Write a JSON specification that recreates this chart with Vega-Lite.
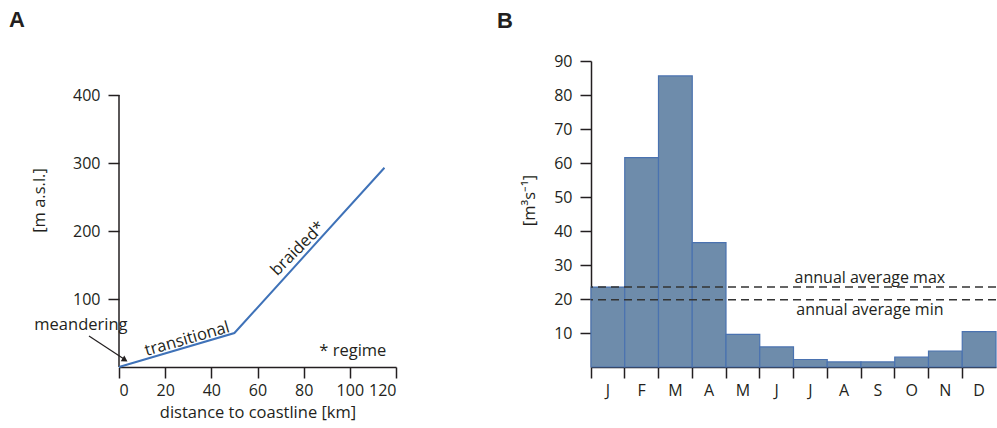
{
  "$schema": "https://vega.github.io/schema/vega-lite/v6.json",
  "padding": {"left": 9, "top": 9, "right": 0, "bottom": 0},
  "spacing": 100,
  "config": {
    "view": {"stroke": null},
    "font": "Open Sans",
    "axis": {
      "domainColor": "#231f20", "domainWidth": 1.5, "tickColor": "#231f20", "tickWidth": 1.5, "tickSize": 11,
      "labelColor": "#231f20", "labelFont": "Open Sans", "labelFontSize": 16, "grid": false, "labelOverlap": false,
      "titleColor": "#231f20", "titleFont": "Open Sans", "titleFontSize": 16.5, "titleFontWeight": "normal"
    }
  },
  "datasets": {
    "profile": [{"d": 0, "e": 0}, {"d": 50, "e": 50}, {"d": 115, "e": 293}],
    "flow": [
      {"month": "Jan", "q": 23.5}, {"month": "Feb", "q": 61.6}, {"month": "Mar", "q": 85.6},
      {"month": "Apr", "q": 36.6}, {"month": "May", "q": 9.6}, {"month": "Jun", "q": 5.9},
      {"month": "Jul", "q": 2.2}, {"month": "Aug", "q": 1.5}, {"month": "Sep", "q": 1.5},
      {"month": "Oct", "q": 2.9}, {"month": "Nov", "q": 4.7}, {"month": "Dec", "q": 10.4}
    ],
    "averages": [{"kind": "annual average max", "q": 23.5, "ly": 26.3}, {"kind": "annual average min", "q": 19.8, "ly": 16.9}]
  },
  "hconcat": [
    {
      "width": 277, "height": 306,
      "title": {"text": "A", "anchor": "start", "frame": "group", "dx": -110, "offset": 29, "fontSize": 22, "font": "Liberation Sans", "fontWeight": "bold", "color": "#231f20"},
      "layer": [
        {
          "data": {"values": [{"d": 0, "e": 0, "e2": 400}]},
          "mark": {"type": "rule", "color": "#231f20", "strokeWidth": 1.5},
          "encoding": {"x": {"field": "d", "type": "quantitative"}, "y": {"field": "e", "type": "quantitative"}, "y2": {"field": "e2"}}
        },
        {
          "data": {"name": "profile"},
          "mark": {"type": "line", "color": "#3f72b8", "strokeWidth": 2},
          "encoding": {
            "x": {"field": "d", "type": "quantitative", "scale": {"domain": [0, 120], "nice": false},
                  "axis": {"values": [0, 20, 40, 60, 80, 100, 120], "tickCount": 20, "title": "distance to coastline [km]", "titlePadding": 6, "labelPadding": 4}},
            "y": {"field": "e", "type": "quantitative", "scale": {"domain": [0, 450], "nice": false},
                  "axis": {"values": [100, 200, 300, 400], "tickCount": 20, "domain": false, "title": "[m a.s.l.]", "titlePadding": 25, "labelPadding": 8, "titleY": 139}}
          }
        },
        {
          "data": {"values": [{"label": "meandering", "d": -16.5, "e": 62}]},
          "mark": {"type": "text", "fontSize": 16.5, "color": "#231f20", "baseline": "middle"},
          "encoding": {"x": {"field": "d", "type": "quantitative"}, "y": {"field": "e", "type": "quantitative"}, "text": {"field": "label"}}
        },
        {
          "data": {"values": [{"label": "transitional", "d": 29.5, "e": 41}]},
          "mark": {"type": "text", "fontSize": 16.5, "color": "#231f20", "baseline": "middle", "angle": -16},
          "encoding": {"x": {"field": "d", "type": "quantitative"}, "y": {"field": "e", "type": "quantitative"}, "text": {"field": "label"}}
        },
        {
          "data": {"values": [{"label": "braided*", "d": 77.5, "e": 174}]},
          "mark": {"type": "text", "fontSize": 16.5, "color": "#231f20", "baseline": "middle", "angle": -45},
          "encoding": {"x": {"field": "d", "type": "quantitative"}, "y": {"field": "e", "type": "quantitative"}, "text": {"field": "label"}}
        },
        {
          "data": {"values": [{"label": "* regime", "d": 101.3, "e": 23.6}]},
          "mark": {"type": "text", "fontSize": 16.5, "color": "#231f20", "baseline": "middle"},
          "encoding": {"x": {"field": "d", "type": "quantitative"}, "y": {"field": "e", "type": "quantitative"}, "text": {"field": "label"}}
        },
        {
          "data": {"values": [{"d": -13, "e": 45.7, "d2": 2.5, "e2": 11}]},
          "mark": {"type": "rule", "color": "#231f20", "strokeWidth": 1.2},
          "encoding": {"x": {"field": "d", "type": "quantitative"}, "y": {"field": "e", "type": "quantitative"}, "x2": {"field": "d2"}, "y2": {"field": "e2"}}
        },
        {
          "data": {"values": [{"d": 2.6, "e": 10.5}]},
          "mark": {"type": "point", "shape": "triangle-right", "filled": true, "color": "#231f20", "size": 45, "angle": 32, "opacity": 1},
          "encoding": {"x": {"field": "d", "type": "quantitative"}, "y": {"field": "e", "type": "quantitative"}}
        }
      ]
    },
    {
      "width": 405, "height": 306,
      "title": {"text": "B", "anchor": "start", "frame": "group", "dx": -94, "offset": 20, "fontSize": 22, "font": "Liberation Sans", "fontWeight": "bold", "color": "#231f20"},
      "layer": [
        {
          "data": {"name": "flow"},
          "mark": {"type": "bar", "fill": "#6e8cab", "stroke": "#4a72b0", "strokeWidth": 1.2, "opacity": 1},
          "encoding": {
            "x": {"field": "month", "type": "ordinal", "sort": null, "scale": {"paddingInner": 0, "paddingOuter": 0},
                  "axis": {"title": null, "bandPosition": 0, "labelAngle": 0, "labelPadding": 4, "labelExpr": "substring(datum.value, 0, 1)"}},
            "y": {"field": "q", "type": "quantitative", "scale": {"domain": [0, 90], "nice": false},
                  "axis": {"values": [10, 20, 30, 40, 50, 60, 70, 80, 90], "tickCount": 20, "title": "[m³s⁻¹]", "titlePadding": 16, "labelPadding": 8, "titleY": 139}}
          }
        },
        {
          "data": {"name": "averages"},
          "mark": {"type": "rule", "color": "#333333", "strokeWidth": 1.5, "strokeDash": [8, 5]},
          "encoding": {"y": {"field": "q", "type": "quantitative"}}
        },
        {
          "data": {"name": "averages"},
          "mark": {"type": "text", "fontSize": 16, "color": "#231f20", "baseline": "middle", "dx": -8},
          "encoding": {"x": {"datum": "Sep", "type": "ordinal"}, "y": {"field": "ly", "type": "quantitative"}, "text": {"field": "kind"}}
        }
      ]
    }
  ]
}
